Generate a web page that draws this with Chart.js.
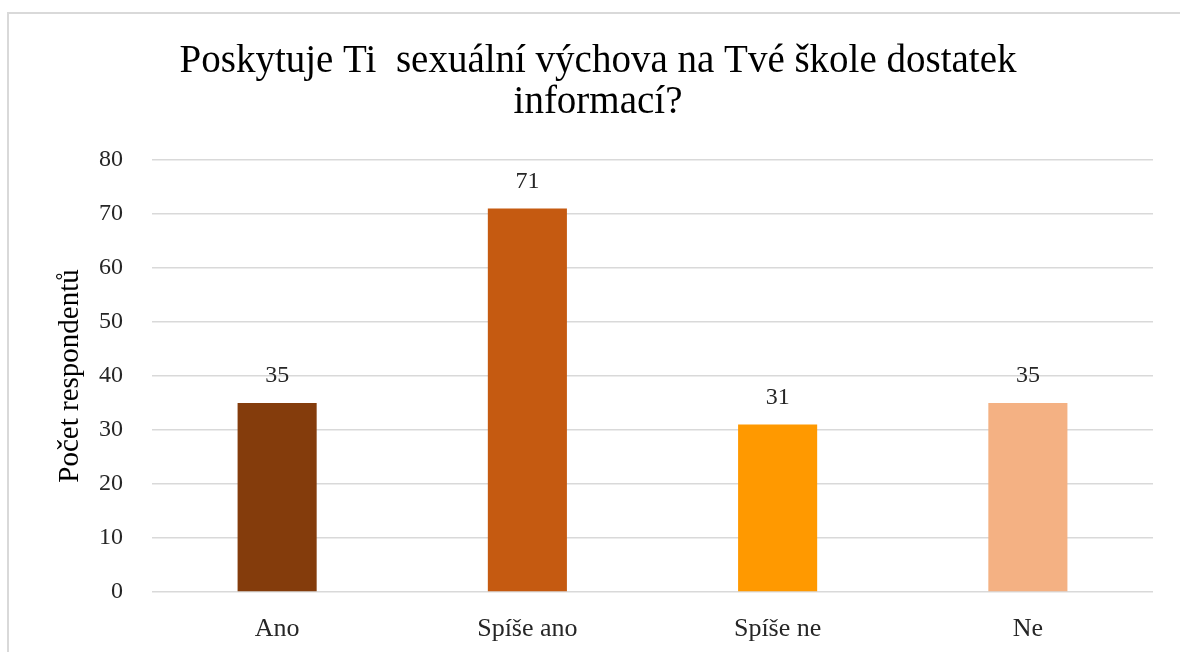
<!DOCTYPE html>
<html><head><meta charset="utf-8">
<script src="https://cdn.jsdelivr.net/npm/chart.js@4/dist/chart.umd.min.js"></script>
<style>html,body{margin:0;padding:0;overflow:hidden;background:#fff}#wrap{position:absolute;left:0;top:0;width:1196px;height:652px}</style>
</head><body><div id="wrap"><canvas id="c"></canvas></div>
<script>
const categories = ['Ano', 'Spíše ano', 'Spíše ne', 'Ne'];
const values = [35, 71, 31, 35];
const barColors = ['#843C0C', '#C55A11', '#FF9900', '#F4B183'];
const titleLines = ['Poskytuje Ti  sexuální výchova na Tvé škole dostatek', 'informací?'];
const yAxisTitle = 'Počet respondentů';
const yMin = 0, yMax = 80, yStep = 10;

const serif = '"Liberation Serif", "Times New Roman", serif';

const framePlugin = {
  id: 'frame',
  beforeDraw(chart) {
    const ctx = chart.ctx;
    ctx.save();
    ctx.strokeStyle = '#d9d9d9';
    ctx.lineWidth = 2;
    ctx.strokeRect(8, 13, 1300, 800);
    ctx.restore();
  }
};
const labelPlugin = {
  id: 'barLabels',
  afterDatasetsDraw(chart) {
    const ctx = chart.ctx;
    const meta = chart.getDatasetMeta(0);
    ctx.save();
    ctx.font = '24px ' + serif;
    ctx.fillStyle = '#262626';
    ctx.textAlign = 'center';
    ctx.textBaseline = 'middle';
    meta.data.forEach((el, i) => {
      ctx.fillText(String(values[i]), el.x, el.y - 27);
    });
    ctx.restore();
  }
};

new Chart(document.getElementById('c'), {
  type: 'bar',
  data: {
    labels: categories,
    datasets: [{ data: values, backgroundColor: barColors, borderWidth: 0, barPercentage: 0.316, categoryPercentage: 1 }]
  },
  options: {
    responsive: true,
    maintainAspectRatio: false,
    animation: false,
    layout: { padding: { left: 43, right: 43, top: 0, bottom: 0 } },
    plugins: {
      legend: { display: false },
      tooltip: { enabled: false },
      title: {
        display: true,
        text: titleLines,
        color: '#000',
        font: { family: serif, size: 39, weight: 'normal', lineHeight: 1.05 },
        padding: { top: 41, bottom: 37 }
      }
    },
    scales: {
      x: {
        grid: { display: false },
        border: { display: false },
        ticks: { color: '#262626', font: { family: serif, size: 26 }, padding: 14 },
        afterFit(s) { s.height = 60; }
      },
      y: {
        min: yMin, max: yMax,
        grid: { color: '#d9d9d9', lineWidth: 1.5, drawTicks: false },
        border: { display: false },
        ticks: { stepSize: yStep, color: '#262626', font: { family: serif, size: 24 }, padding: 29 },
        title: { display: true, text: yAxisTitle, color: '#000', font: { family: serif, size: 29 }, padding: { top: 10, bottom: 0 } },
        afterFit(s) { s.width = 109; }
      }
    }
  },
  plugins: [framePlugin, labelPlugin]
});
</script></body></html>
